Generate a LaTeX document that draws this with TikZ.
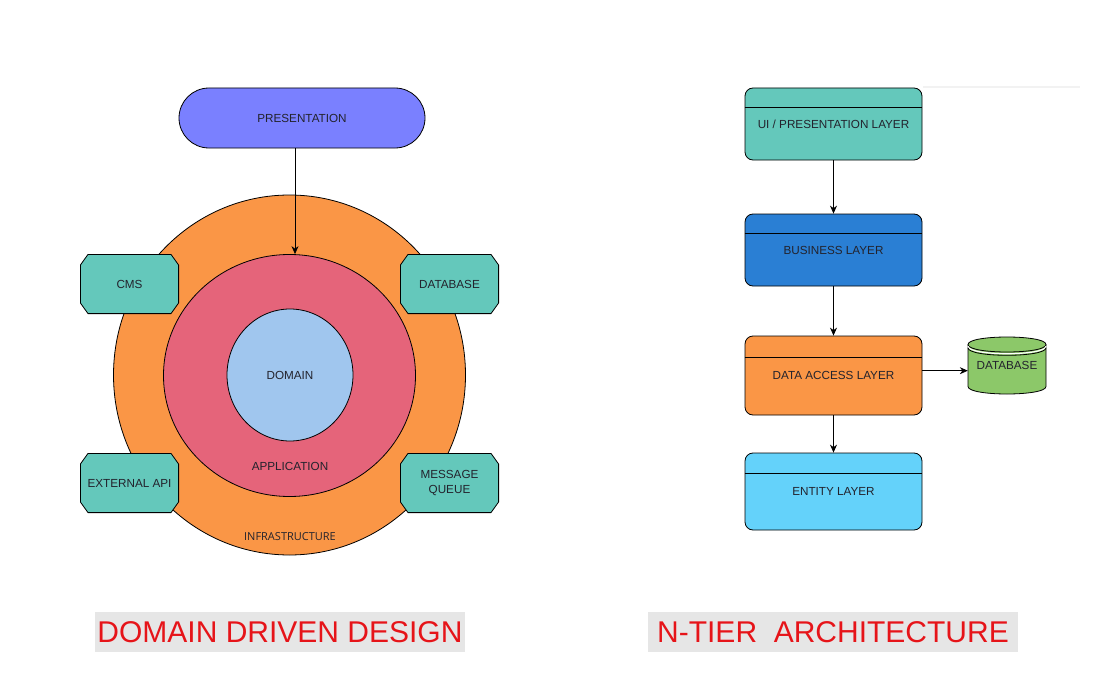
\documentclass[tikz,border=0pt]{standalone}
\usepackage{fontspec}
\setmainfont{Liberation Sans}
\newfontfamily\infrafont{Open Sans}
\usetikzlibrary{shapes.geometric,shapes.misc,arrows.meta,calc}
\definecolor{presblue}{RGB}{122,128,255}
\definecolor{infraorange}{RGB}{250,150,70}
\definecolor{appred}{RGB}{229,100,122}
\definecolor{domblue}{RGB}{160,198,238}
\definecolor{tealbox}{RGB}{100,200,187}
\definecolor{busblue}{RGB}{42,127,212}
\definecolor{entblue}{RGB}{100,210,250}
\definecolor{dbgreen}{RGB}{140,200,105}
\definecolor{titlebg}{RGB}{230,230,230}
\definecolor{titlered}{RGB}{230,20,25}
\definecolor{txt}{RGB}{35,35,45}
\definecolor{faint}{RGB}{242,242,242}
\begin{document}
\begin{tikzpicture}[x=1pt,y=-1pt,
  lbl/.style={font=\fontsize{11.7}{15}\selectfont, text=txt},
  ring/.style={ellipse, draw=black, line width=0.8pt, inner sep=0pt},
  octa/.style={rectangle, minimum width=99pt, minimum height=60pt, inner sep=0pt, lbl, align=center,
     path picture={
       \coordinate (pNW) at (path picture bounding box.north west);
       \coordinate (pNE) at (path picture bounding box.north east);
       \coordinate (pSE) at (path picture bounding box.south east);
       \coordinate (pSW) at (path picture bounding box.south west);
       \draw[fill=tealbox, line width=0.8pt]
         ([xshift=8pt,yshift=-0.4pt]pNW) -- ([xshift=-8pt,yshift=-0.4pt]pNE)
         -- ([xshift=-0.4pt,yshift=-11pt]pNE) -- ([xshift=-0.4pt,yshift=11pt]pSE)
         -- ([xshift=-8pt,yshift=0.4pt]pSE) -- ([xshift=8pt,yshift=0.4pt]pSW)
         -- ([xshift=0.4pt,yshift=11pt]pSW) -- ([xshift=0.4pt,yshift=-11pt]pNW) -- cycle;
     }},
  layerbox/.style={rectangle, rounded corners=8pt, draw=black, line width=0.8pt,
     minimum width=177pt, inner sep=0pt, lbl},
  hdr/.style={draw=black, line width=0.8pt},
  arr/.style={draw=black, line width=0.8pt, -{Stealth[length=8pt,width=7pt]}},
  title/.style={fill=titlebg, text=titlered, minimum width=370pt, minimum height=40pt,
     inner sep=0pt, font=\fontsize{30}{36}\selectfont}
]
\useasboundingbox[fill=white] (0,0) rectangle (1104,685);

% ---------- Domain Driven Design ----------
\node[ring, fill=infraorange, minimum width=352pt, minimum height=360pt] (infra) at (289.5,375) {};
\node[ring, fill=appred, minimum width=252pt, minimum height=242pt] (app) at (289.5,375.5) {};
\node[ring, fill=domblue, minimum width=126pt, minimum height=132pt, lbl] (dom) at (290,375) {DOMAIN};
\node[lbl] (applbl) at (290,466) {APPLICATION};
\node[text=txt, font=\infrafont\fontsize{11}{13}\selectfont] (infralbl) at (290,536.5) {INFRASTRUCTURE};

\node[rectangle, rounded corners=30pt, draw=black, line width=0.8pt, fill=presblue,
      minimum width=246pt, minimum height=60pt, lbl] (pres) at (302,118) {PRESENTATION};
\draw[arr] ([xshift=-7pt]pres.south) -- ([xshift=-7pt]pres.south |- app.north);

\node[octa] (cms) at (129.5,284) {CMS};
\node[octa] (dbo) at (449.5,284) {DATABASE};
\node[octa] (api) at (129.5,483) {EXTERNAL API};
\node[octa] (mq) at (449.5,483) {MESSAGE\\QUEUE};

\node[title] (ddd) at (280,632) {DOMAIN DRIVEN DESIGN};

% ---------- N-Tier ----------
\draw[faint, line width=1.5pt] (923,87) -- (1080,87);

\node[layerbox, fill=tealbox, minimum height=72pt] (ui) at (833.5,124) {UI / PRESENTATION LAYER};
\draw[hdr] ([yshift=-20pt]ui.north west) -- ([yshift=-20pt]ui.north east);

\node[layerbox, fill=busblue, minimum height=72pt] (bl) at (833.5,250) {BUSINESS LAYER};
\draw[hdr] ([yshift=-20pt]bl.north west) -- ([yshift=-20pt]bl.north east);

\node[layerbox, fill=infraorange, minimum height=79pt] (dal) at (833.5,375.5) {DATA ACCESS LAYER};
\draw[hdr] ([yshift=-22pt]dal.north west) -- ([yshift=-22pt]dal.north east);

\node[layerbox, fill=entblue, minimum height=77pt] (ent) at (833.5,491.5) {ENTITY LAYER};
\draw[hdr] ([yshift=-21pt]ent.north west) -- ([yshift=-21pt]ent.north east);

% database cylinder
\draw[fill=dbgreen, line width=0.8pt] (968,344.5) -- (968,386.5)
   .. controls (968,396.5) and (1046,396.5) .. (1046,386.5) -- (1046,344.5)
   .. controls (1046,334.5) and (968,334.5) .. (968,344.5) -- cycle;
\draw[line width=0.8pt] (968,344.5) .. controls (968,354.5) and (1046,354.5) .. (1046,344.5);
\draw[white, line width=1.2pt] (968,346.2) .. controls (968,356.2) and (1046,356.2) .. (1046,346.2);
\draw[line width=0.8pt] (968,347.8) .. controls (968,357.8) and (1046,357.8) .. (1046,347.8);
\node[lbl, minimum width=78pt, minimum height=57pt, inner sep=0pt] (db) at (1007,365.5) {DATABASE};

\draw[arr] (ui) -- (bl);
\draw[arr] (bl) -- (dal);
\draw[arr] (dal) -- (ent);
\draw[arr] ([yshift=4.8pt]dal.east) -- ([yshift=4.8pt]dal.east -| db.west);

\node[title] (ntier) at (833,632) {N-TIER\ \ ARCHITECTURE};
\end{tikzpicture}
\end{document}
